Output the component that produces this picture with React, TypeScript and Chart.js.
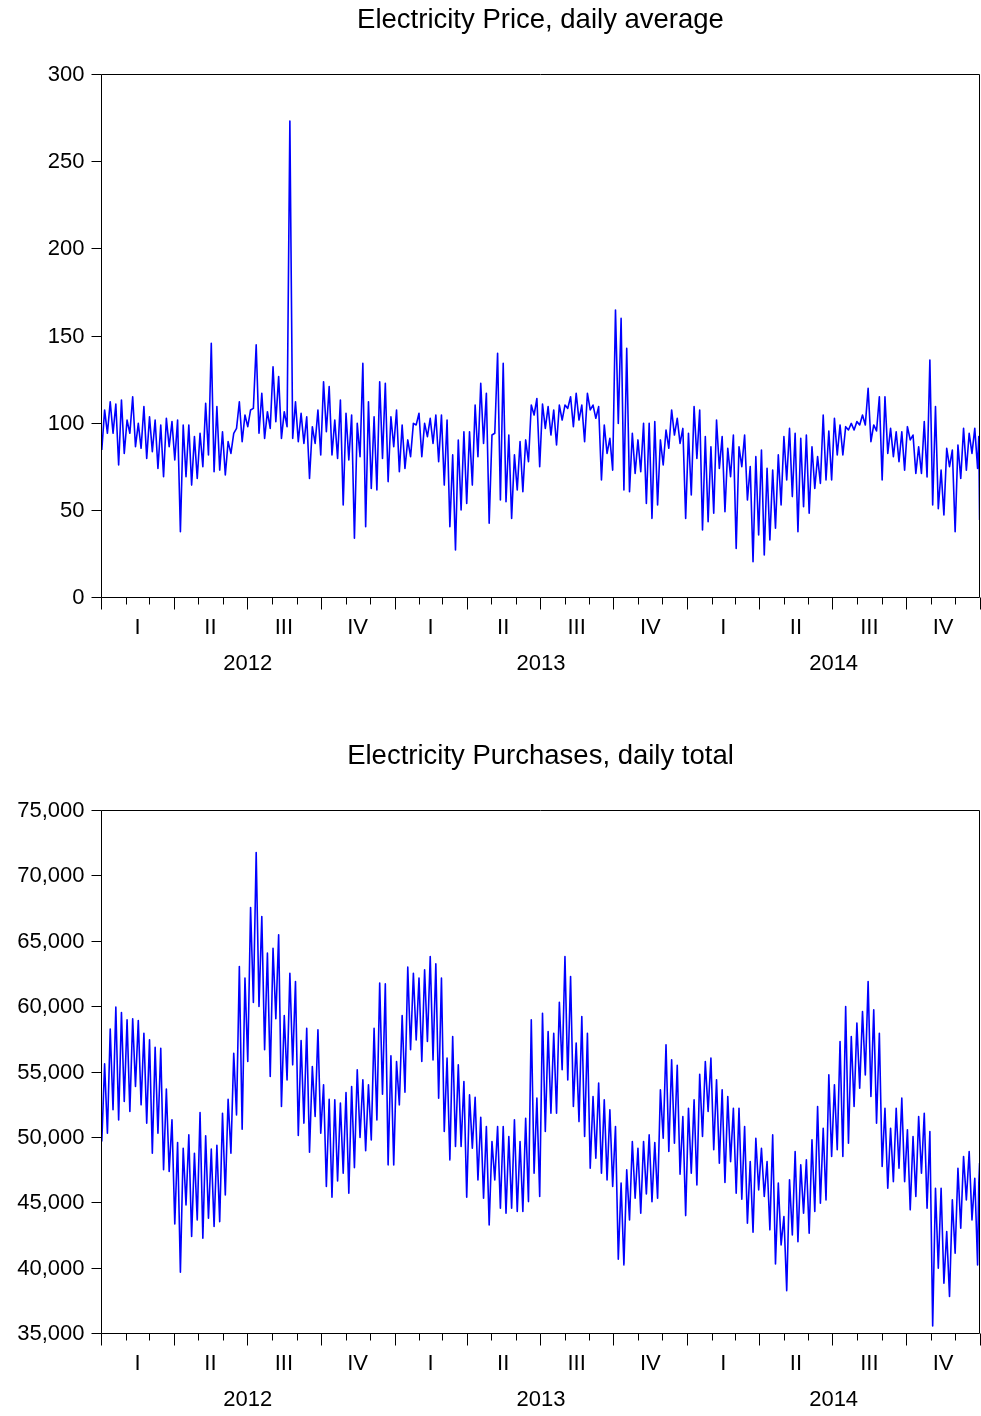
import React, { useEffect, useRef } from "react";
import { Chart, registerables } from "chart.js";

Chart.register(...registerables);

// Calendar: day 0 = 1 Jan 2012, day 1096 = 1 Jan 2015
const TOTAL_DAYS = 1096;
const YEARS = ["2012", "2013", "2014"];
const QUARTERS = ["I", "II", "III", "IV"];
const MONTH_START_DAYS = [
  0, 31, 60, 91, 121, 152, 182, 213, 244, 274, 305, 335,
  366, 397, 425, 456, 486, 517, 547, 578, 609, 639, 670, 700,
  731, 762, 790, 821, 851, 882, 912, 943, 974, 1004, 1035, 1065,
  1096,
];

const PRICE_TICKS = [0, 50, 100, 150, 200, 250, 300];
const PURCHASE_TICKS = [35000, 40000, 45000, 50000, 55000, 60000, 65000, 70000, 75000];

// Daily average price: weekly trough (start of week) and weekly peak (mid-week)
const PRICE_WEEK_LOW = [
  84.3, 93.9, 93.9, 75.7, 82.4, 93.9, 86.2, 85.3, 79.5, 83.4,
  73.8, 69.0, 86.2, 78.6, 37.5, 69.0, 64.2, 68.0, 74.8, 81.5,
  71.9, 72.8, 70.0, 82.4, 96.7, 89.1, 97.7, 108.2, 93.9, 91.0,
  96.7, 100.6, 91.0, 97.7, 91.0, 89.1, 88.1, 68.0, 88.1, 81.5,
  94.8, 81.5, 79.5, 52.8, 78.6, 33.7, 80.5, 40.3, 62.3, 61.4,
  79.5, 66.2, 86.2, 71.9, 73.8, 80.5, 98.7, 80.5, 92.0, 88.1,
  77.6, 64.2, 40.3, 27.0, 49.9, 53.7, 64.2, 80.5, 88.1, 42.3,
  93.9, 55.6, 54.7, 45.1, 61.4, 60.4, 77.6, 104.4, 74.8, 96.7,
  92.9, 87.2, 101.5, 108.2, 97.7, 101.5, 89.1, 107.3, 102.5, 67.1,
  82.4, 72.8, 99.6, 61.4, 60.4, 70.9, 71.9, 53.7, 45.1, 52.8,
  75.7, 85.3, 92.9, 88.1, 45.1, 58.5, 79.5, 38.4, 43.2, 48.0,
  73.8, 48.9, 69.0, 27.9, 74.8, 55.6, 20.3, 35.6, 24.1, 32.7,
  39.4, 52.8, 67.1, 57.6, 37.5, 51.8, 48.0, 62.3, 65.2, 67.1,
  67.1, 81.5, 81.5, 95.8, 95.8, 98.7, 98.7, 89.1, 95.2, 67.1,
  82.4, 80.5, 77.6, 72.8, 90.1, 70.9, 70.9, 68.9, 52.8, 50.6,
  47.0, 74.8, 37.5, 68.0, 72.8, 82.4, 73.8,
];
const PRICE_WEEK_HIGH = [
  107.3, 112.0, 110.7, 113.0, 101.5, 114.9, 99.6, 109.2, 103.4, 101.5,
  98.7, 102.5, 100.6, 101.5, 98.7, 98.7, 92.0, 93.9, 111.1, 145.5,
  109.2, 94.8, 89.1, 93.9, 112.0, 104.4, 107.3, 144.6, 116.8, 106.3,
  132.1, 126.4, 106.3, 273.0, 112.0, 105.4, 103.4, 97.7, 107.3, 123.5,
  120.7, 101.5, 113.0, 105.4, 104.4, 99.6, 134.0, 112.0, 103.4, 123.5,
  122.6, 103.4, 107.3, 98.7, 90.1, 99.6, 105.4, 99.6, 102.5, 104.4,
  104.4, 101.5, 81.5, 90.1, 94.8, 94.8, 110.1, 122.6, 116.8, 92.9,
  139.8, 134.0, 92.9, 81.5, 89.1, 90.1, 110.1, 113.9, 110.7, 109.2,
  107.3, 110.1, 110.1, 114.9, 116.8, 110.1, 116.8, 110.1, 109.2, 98.7,
  91.0, 164.6, 159.8, 142.6, 93.9, 90.1, 99.6, 99.6, 100.6, 90.1,
  95.8, 107.3, 102.5, 96.7, 93.9, 109.2, 107.3, 92.0, 86.2, 101.5,
  92.0, 85.3, 92.9, 86.2, 92.9, 74.8, 80.5, 84.3, 73.8, 72.8,
  81.5, 92.0, 96.7, 93.9, 91.0, 92.9, 86.2, 80.5, 104.4, 95.2,
  102.5, 98.7, 97.7, 99.6, 100.6, 104.4, 119.7, 98.7, 114.9, 114.9,
  96.7, 94.8, 94.8, 97.7, 92.9, 86.2, 100.6, 135.9, 109.2, 72.8,
  85.3, 84.3, 87.2, 96.7, 93.9, 96.7, 92.0,
];
const PRICE_CLOSE = 44.2;

// Daily total purchases: weekend trough and weekday level, week by week
const PURCHASE_WEEK_LOW = [
  49640, 50280, 52070, 51300, 52700, 51940, 53850, 52450, 51050, 48750,
  50280, 47480, 47350, 43340, 39650, 44800, 42380, 43650, 42250, 43780,
  43140, 43520, 45560, 48750, 51680, 50590, 55760, 60280, 59970, 56660,
  54620, 59030, 52320, 54360, 55510, 50100, 51050, 48830, 51560, 50280,
  46200, 45380, 46630, 47220, 45690, 47650, 49950, 48950, 49770, 51300,
  53260, 47860, 47860, 52450, 53420, 56660, 57420, 55760, 57290, 55890,
  52960, 50410, 48240, 49260, 49260, 45380, 49130, 46710, 45310, 43270,
  46710, 44540, 44160, 44540, 44290, 44290, 45050, 47220, 45440, 50410,
  51810, 51810, 55130, 54360, 52320, 51170, 50030, 47600, 48370, 47220,
  46710, 46200, 40640, 40210, 43650, 45310, 44160, 45640, 45050, 45310,
  49900, 48880, 49520, 47140, 43980, 47220, 46330, 50030, 51940, 49010,
  47990, 46510, 48110, 45690, 45230, 43400, 42710, 45950, 45440, 42890,
  40280, 41740, 38240, 42500, 41990, 44160, 42630, 44290, 44930, 45180,
  48500, 49010, 48500, 49520, 52320, 53720, 54740, 53090, 51050, 47730,
  46070, 46580, 47600, 46580, 44420, 45440, 47220, 44540, 35540, 39950,
  38810, 37790, 41100, 43010, 45180, 43650, 40210,
];
const PURCHASE_WEEK_HIGH = [
  55580, 58240, 59920, 59510, 58950, 59030, 58900, 57930, 57420, 56860,
  56780, 53650, 51300, 49570, 49130, 50150, 48750, 51860, 50080, 49060,
  49360, 51810, 52880, 56400, 63030, 62140, 67540, 71750, 66860, 64050,
  64430, 65450, 59280, 62520, 61880, 57370, 58310, 55380, 58190, 53980,
  52880, 52830, 52580, 53390, 53850, 55130, 54360, 53980, 58310, 61760,
  61700, 56200, 55760, 59280, 62980, 62520, 62140, 62780, 63800, 63230,
  62140, 56020, 57680, 55510, 54230, 53210, 53030, 51500, 50790, 49640,
  50790, 50790, 50030, 51300, 49640, 51430, 58950, 52960, 59460, 58060,
  57930, 60300, 63800, 62270, 57170, 59210, 57930, 53090, 54110, 52830,
  52070, 50790, 46460, 47480, 49640, 49130, 49640, 50150, 49570, 53600,
  57040, 55890, 55480, 51560, 52190, 52830, 54790, 55760, 56020, 54360,
  53600, 53090, 52190, 52190, 50790, 48110, 49900, 49130, 48110, 50150,
  46460, 43910, 46710, 48880, 47860, 48240, 49770, 52320, 50660, 54740,
  53980, 57290, 59970, 57680, 58700, 59590, 61880, 59720, 57930, 52190,
  50660, 52190, 52960, 50540, 50030, 51560, 51810, 50410, 46070, 46070,
  42760, 45180, 47600, 48500, 48880, 46840, 46460,
];
const PURCHASE_CLOSE = 47990;

const LINE_COLOR = "#0000ff";
const FONT = '"Liberation Sans", Arial, Helvetica, sans-serif';

type Pt = { x: number; y: number };

// Each week contributes its trough (Monday) then its mid-week level.
function weeklySeries(lows: number[], highs: number[], close: number): Pt[] {
  const pts: Pt[] = [];
  for (let k = 0; k < lows.length; k++) {
    const start = 7 * k;
    pts.push({ x: start + 1, y: lows[k] });
    pts.push({ x: Math.min(start + 4.5, TOTAL_DAYS - 1.5), y: highs[k] });
  }
  pts.push({ x: TOTAL_DAYS - 0.5, y: close });
  return pts;
}

function axesPlugin(title: string, yTicks: number[], fmt: (v: number) => string) {
  return {
    id: "eviewsFrame",
    afterDraw(chart: any) {
      const { ctx, chartArea: a, scales } = chart;
      const xs = scales.x;
      const ys = scales.y;
      const L = Math.round(a.left) + 0.5;
      const R = Math.round(a.right) - 0.5;
      const T = Math.round(a.top) + 0.5;
      const B = Math.round(a.bottom) + 0.5;
      ctx.save();
      ctx.strokeStyle = "#000";
      ctx.lineWidth = 1;
      ctx.beginPath();
      ctx.rect(L, T, R - L, B - T);
      ctx.stroke();

      // y axis ticks and labels
      ctx.fillStyle = "#000";
      ctx.font = `22px ${FONT}`;
      ctx.textAlign = "right";
      ctx.textBaseline = "middle";
      ctx.beginPath();
      for (const v of yTicks) {
        const py = Math.round(ys.getPixelForValue(v)) + 0.5;
        ctx.moveTo(L - 10, py);
        ctx.lineTo(L, py);
        ctx.fillText(fmt(v), L - 17, py);
      }
      ctx.stroke();

      // monthly ticks, longer at quarter starts
      ctx.beginPath();
      MONTH_START_DAYS.forEach((d, i) => {
        const px = Math.round(xs.getPixelForValue(d)) + 0.5;
        const len = i % 3 === 0 ? 12 : 7;
        ctx.moveTo(px, B);
        ctx.lineTo(px, B + len);
      });
      ctx.stroke();

      // quarter and year labels
      ctx.textAlign = "center";
      YEARS.forEach((yr, yi) => {
        QUARTERS.forEach((q, qi) => {
          const m = yi * 12 + qi * 3;
          const cx = (xs.getPixelForValue(MONTH_START_DAYS[m]) + xs.getPixelForValue(MONTH_START_DAYS[m + 3])) / 2;
          ctx.fillText(q, cx, B + 30);
        });
        const ycx = (xs.getPixelForValue(MONTH_START_DAYS[yi * 12]) + xs.getPixelForValue(MONTH_START_DAYS[yi * 12 + 12])) / 2;
        ctx.fillText(yr, ycx, B + 66);
      });

      // title
      ctx.font = `27.5px ${FONT}`;
      ctx.fillText(title, (a.left + a.right) / 2, a.top - 54);
      ctx.restore();
    },
  };
}

type PanelProps = {
  title: string;
  points: Pt[];
  yMin: number;
  yMax: number;
  yTicks: number[];
  fmt: (v: number) => string;
  padding: { left: number; right: number; top: number; bottom: number };
};

function Panel({ title, points, yMin, yMax, yTicks, fmt, padding }: PanelProps) {
  const ref = useRef<HTMLCanvasElement>(null);
  useEffect(() => {
    if (!ref.current) return;
    const chart = new Chart(ref.current, {
      type: "line",
      data: {
        datasets: [
          {
            data: points as any,
            borderColor: LINE_COLOR,
            borderWidth: 1.6,
            borderJoinStyle: "round",
            pointRadius: 0,
            tension: 0,
            fill: false,
          },
        ],
      },
      options: {
        animation: false,
        responsive: false,
        parsing: false,
        events: [],
        layout: { padding },
        plugins: {
          legend: { display: false },
          tooltip: { enabled: false },
          title: { display: false },
        },
        scales: {
          x: { type: "linear", display: false, min: 0, max: TOTAL_DAYS },
          y: { type: "linear", display: false, min: yMin, max: yMax },
        },
      },
      plugins: [axesPlugin(title, yTicks, fmt)],
    });
    return () => chart.destroy();
  }, []);
  return <canvas ref={ref} width={981} height={708} style={{ display: "block" }} />;
}

export default function App() {
  const pricePts = weeklySeries(PRICE_WEEK_LOW, PRICE_WEEK_HIGH, PRICE_CLOSE);
  const purchasePts = weeklySeries(PURCHASE_WEEK_LOW, PURCHASE_WEEK_HIGH, PURCHASE_CLOSE);
  return (
    <div style={{ position: "absolute", left: 0, top: 0, width: 981, height: 1416, background: "#fff" }}>
      <Panel
        title="Electricity Price, daily average"
        points={pricePts}
        yMin={0}
        yMax={300}
        yTicks={PRICE_TICKS}
        fmt={(v) => String(v)}
        padding={{ left: 101, right: 1, top: 74, bottom: 111 }}
      />
      <Panel
        title="Electricity Purchases, daily total"
        points={purchasePts}
        yMin={35000}
        yMax={75000}
        yTicks={PURCHASE_TICKS}
        fmt={(v) => v.toLocaleString("en-US")}
        padding={{ left: 101, right: 1, top: 102, bottom: 83 }}
      />
    </div>
  );
}
